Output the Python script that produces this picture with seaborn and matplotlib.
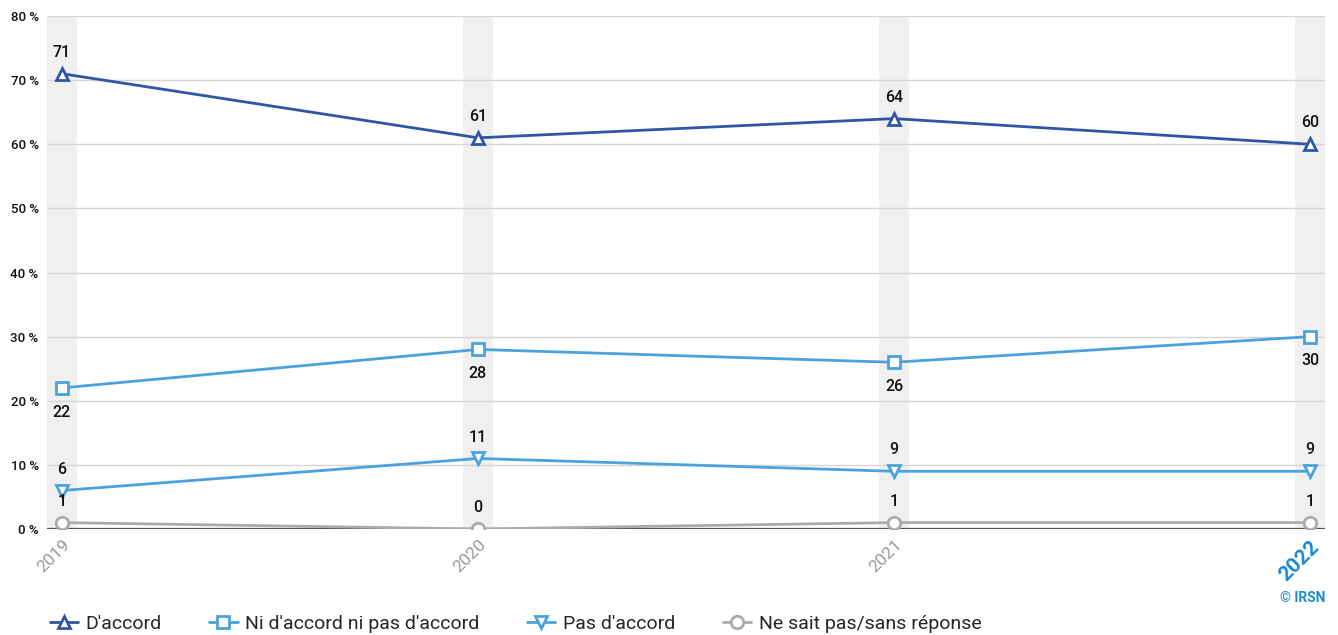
import pandas as pd
import matplotlib.pyplot as plt
import seaborn as sns

# ---------------------------
# Data
# ---------------------------
years = [2019, 2020, 2021, 2022]
d_accord = [71, 61, 64, 60]
ni_ni = [22, 28, 26, 30]
pas_accord = [6, 11, 9, 9]
nsp = [1, 0, 1, 1]
y_ticks = [0, 10, 20, 30, 40, 50, 60, 70, 80]

series = [
    ("D'accord", d_accord, "#2F55A4", "^", "above"),
    ("Ni d'accord ni pas d'accord", ni_ni, "#4BA3DD", "s", "below"),
    ("Pas d'accord", pas_accord, "#4BA3DD", "v", "above"),
    ("Ne sait pas/sans réponse", nsp, "#ABABAB", "o", "above"),
]

# ---------------------------
# Style
# ---------------------------
sns.set_style("white")
plt.rcParams['font.family'] = ['Roboto', 'DejaVu Sans']

fig = plt.figure(figsize=(13.38, 6.35), dpi=100)
ax = fig.add_axes([47 / 1338, 106 / 635, 1278 / 1338, 513 / 635])

# grey column bands behind each year
for yr in years:
    ax.axvspan(yr - 0.037, yr + 0.037, color="#F0F0F0", zorder=0, lw=0)

for yv in y_ticks[1:]:
    ax.axhline(yv, color="#D6D6D6", lw=1, zorder=1)
ax.axhline(0, color="#555555", lw=1.6, zorder=2)

for name, vals, col, mk, pos in series:
    df = pd.DataFrame({"year": years, "value": vals})
    sns.lineplot(data=df, x="year", y="value", ax=ax, color=col, lw=2,
                 marker=mk, markersize=9, markerfacecolor="white",
                 markeredgecolor=col, markeredgewidth=2, label=name, zorder=3)
    for x, v in zip(years, vals):
        dy = 10 if pos == "above" else -12
        ax.annotate(str(v), (x, v), xytext=(0, dy), textcoords="offset points",
                    ha="center", va="bottom" if pos == "above" else "top",
                    fontsize=11.5, fontweight="medium", color="#111111", zorder=4)

ax.set_xlim(2019 - 15 / 416, 2022 + 15 / 416)
ax.set_ylim(0, 80)
ax.set_yticks(y_ticks)
ax.set_yticklabels([f"{v} %" for v in y_ticks], fontsize=9.5,
                   fontweight="medium", color="#111111")
ax.set_xticks(years)
ax.set_xticklabels([str(y) for y in years], rotation=45, ha="right",
                   rotation_mode="anchor", fontsize=12.5, color="#999999")
last = ax.get_xticklabels()[-1]
last.set_color("#1C8AD1")
last.set_fontweight("bold")
last.set_fontsize(15)
ax.tick_params(axis="both", length=0, pad=6)
ax.set_xlabel("")
ax.set_ylabel("")
for s in ax.spines.values():
    s.set_visible(False)

ax.get_legend().remove()
handles, labels = ax.get_legend_handles_labels()
fig.legend(handles, labels, loc="lower left", bbox_to_anchor=(0.024, -0.024),
           ncol=4, frameon=False, fontsize=14, handlelength=1.45,
           columnspacing=2.45, handletextpad=0.4)

fig.text(1325 / 1338, 1 - 598 / 635, "© IRSN", ha="right", va="center",
         fontsize=10, fontweight="bold", color="#1C8AD1")

fig.savefig("out.png", dpi=100)
